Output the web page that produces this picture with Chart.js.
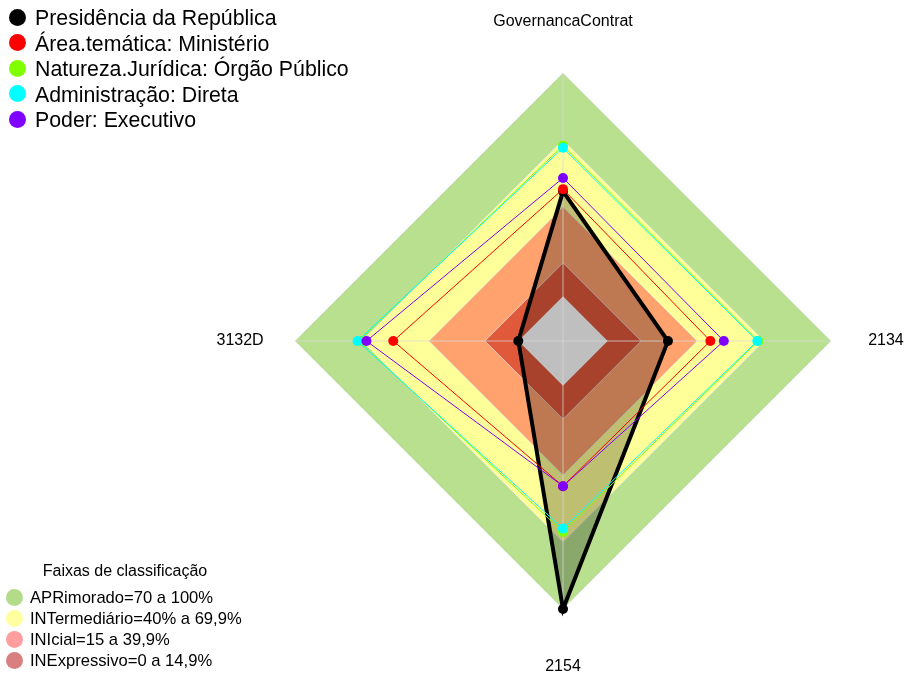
<!DOCTYPE html>
<html>
<head>
<meta charset="utf-8">
<script src="https://cdn.jsdelivr.net/npm/chart.js@4.4.1/dist/chart.umd.min.js"></script>
<style>
  html, body { margin: 0; padding: 0; background: #ffffff; }
  #wrap { position: relative; width: 905px; height: 675px; overflow: hidden; font-family: "Liberation Sans", Arial, sans-serif; }
  #c { position: absolute; left: 0; top: 0; }
  .lg { position: absolute; left: 0; white-space: nowrap; color: #000; }
  .lg .dot { display: inline-block; border-radius: 50%; vertical-align: middle; }
  #seriesLegend .row { position: absolute; left: 9px; height: 26px; line-height: 26px; font-size: 21.3px; }
  #seriesLegend .dot { width: 17px; height: 17px; margin-right: 9px; position: relative; top: -2px; }
  #bandLegend .title { position: absolute; left: 0; width: 250px; text-align: center; font-size: 16px; }
  #bandLegend .row { position: absolute; left: 6px; height: 21px; line-height: 21px; font-size: 16.6px; }
  #bandLegend .dot { width: 17px; height: 17px; margin-right: 7px; position: relative; top: -1px; }
</style>
</head>
<body>
<div id="wrap">
  <canvas id="c" width="905" height="675"></canvas>
  <div id="seriesLegend" class="lg"></div>
  <div id="bandLegend" class="lg"></div>
</div>
<script>
// ---- data ----
const axisLabels = ['GovernancaContrat', '2134', '2154', '3132D'];

const seriesNames = [
  'Presidência da República',
  'Área.temática: Ministério',
  'Natureza.Jurídica: Órgão Público',
  'Administração: Direta',
  'Poder: Executivo'
];
const presidencia      = [47, 27, 100, 0];
const areaTematica     = [48, 46, 45, 56];
const naturezaJuridica = [67.5, 67.5, 65.5, 71.5];
const administracao    = [66.5, 67, 64, 72];
const poderExecutivo   = [53, 52, 45, 68];
const seriesValues = [presidencia, areaTematica, naturezaJuridica, administracao, poderExecutivo];
const seriesColors = ['#000000', '#FF0000', '#80FF00', '#00FFFF', '#8000FF'];

const bandTitle = 'Faixas de classificação';
const bandNames = ['APRimorado=70 a 100%', 'INTermediário=40% a 69,9%', 'INIcial=15 a 39,9%', 'INExpressivo=0 a 14,9%'];
const bandUpper = [100, 70, 40, 15];
const bandLower = [70, 40, 15, 0];
const bandFill = ['#B8E08F', '#FFFF99', '#FFA26E', '#E0593B'];
const bandLegendColors = ['#B3DB8A', '#FFFFA0', '#FF9E9E', '#D88080'];

const scaleMin = -20, scaleMax = 100;

// ---- datasets ----
const datasets = [];
bandUpper.forEach((u, i) => {
  datasets.push({
    label: bandNames[i],
    isBand: true,
    data: axisLabels.map(() => u),
    fill: { value: bandLower[i] },
    backgroundColor: bandFill[i],
    borderColor: 'rgba(225,225,225,0.7)',
    borderWidth: 1,
    pointRadius: 0,
    order: 20 - i
  });
});
seriesValues.forEach((vals, i) => {
  const first = i === 0;
  datasets.push({
    label: seriesNames[i],
    data: vals,
    fill: first ? 'start' : false,
    backgroundColor: first ? 'rgba(0,0,0,0.25)' : 'transparent',
    borderColor: seriesColors[i],
    borderWidth: first ? 4 : 1,
    pointRadius: 5,
    pointBorderWidth: 0,
    pointBackgroundColor: seriesColors[i],
    axesBefore: first,
    order: 5 - i
  });
});

const labelDistance = [1.193, 1.205, 1.215, 1.205];

const axisPlugin = {
  id: 'axisOverlay',
  beforeDatasetDraw(chart, args) {
    const ds = chart.data.datasets[args.index];
    if (!ds.axesBefore) return;
    const s = chart.scales.r;
    const ctx = chart.ctx;
    ctx.save();
    ctx.strokeStyle = 'rgba(215,215,215,0.75)';
    ctx.lineWidth = 1;
    for (let i = 0; i < axisLabels.length; i++) {
      const p = s.getPointPosition(i, s.drawingArea);
      ctx.beginPath();
      ctx.moveTo(s.xCenter, s.yCenter);
      ctx.lineTo(p.x, p.y);
      ctx.stroke();
    }
    ctx.restore();
  },
  afterDatasetsDraw(chart) {
    const s = chart.scales.r;
    const ctx = chart.ctx;
    ctx.save();
    ctx.fillStyle = '#000';
    ctx.font = '16px "Liberation Sans", Arial, sans-serif';
    ctx.textAlign = 'center';
    ctx.textBaseline = 'middle';
    axisLabels.forEach((lab, i) => {
      const p = s.getPointPosition(i, s.drawingArea * labelDistance[i]);
      ctx.fillText(lab, p.x, p.y);
    });
    ctx.restore();
  }
};

new Chart(document.getElementById('c'), {
  type: 'radar',
  data: { labels: axisLabels, datasets },
  options: {
    responsive: false,
    animation: false,
    devicePixelRatio: 1,
    layout: { padding: { left: 295, right: 74, top: 73, bottom: 66 } },
    elements: { line: { tension: 0 } },
    plugins: { legend: { display: false }, tooltip: { enabled: false } },
    scales: {
      r: {
        min: scaleMin,
        max: scaleMax,
        ticks: { display: false },
        grid: { display: false },
        angleLines: { display: false },
        pointLabels: { display: false }
      }
    }
  },
  plugins: [axisPlugin]
});

// ---- HTML legends ----
const sl = document.getElementById('seriesLegend');
seriesNames.forEach((n, i) => {
  const row = document.createElement('div');
  row.className = 'row';
  row.style.top = (5 + i * 25.5) + 'px';
  row.innerHTML = '<span class="dot" style="background:' + seriesColors[i] + '"></span>' + n;
  sl.appendChild(row);
});
const bl = document.getElementById('bandLegend');
const t = document.createElement('div');
t.className = 'title';
t.style.top = '562px';
t.textContent = bandTitle;
bl.appendChild(t);
bandNames.forEach((n, i) => {
  const row = document.createElement('div');
  row.className = 'row';
  row.style.top = (587 + i * 21) + 'px';
  row.innerHTML = '<span class="dot" style="background:' + bandLegendColors[i] + '"></span>' + n;
  bl.appendChild(row);
});
</script>
</body>
</html>
